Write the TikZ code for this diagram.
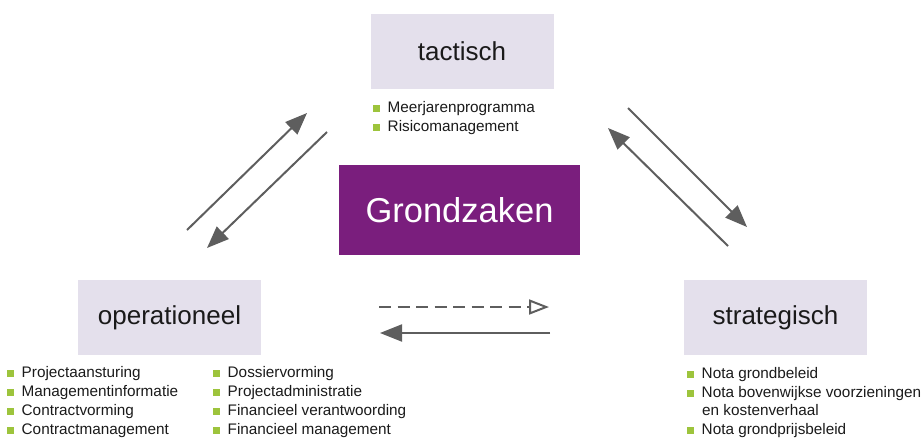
\documentclass[tikz,border=0pt]{standalone}
\usepackage{fontspec}
\setmainfont{Liberation Sans}
\usetikzlibrary{arrows.meta}
\definecolor{boxfill}{HTML}{E4E0EC}
\definecolor{grond}{HTML}{7A1E7D}
\definecolor{arrowgray}{HTML}{5E5E5E}
\definecolor{bulgreen}{HTML}{9DC43C}
\definecolor{txt}{HTML}{1A1A1A}
\newcommand{\bulsq}{\textcolor{bulgreen}{\rule[0.5pt]{7pt}{7pt}}\hspace{7.5pt}}
\tikzset{
  levelbox/.style={fill=boxfill, draw=none, minimum width=183pt, minimum height=75pt, inner sep=0pt, text=txt, font=\fontsize{26}{30}\selectfont},
  corebox/.style={fill=grond, draw=none, minimum width=241pt, minimum height=90pt, inner sep=0pt, text=white, font=\fontsize{34.5}{40}\selectfont},
  item/.style={anchor=base west, inner sep=0pt, text=txt, font=\fontsize{15.3}{18}\selectfont},
  flow/.style={draw=arrowgray, line width=2pt, -{Triangle[length=22pt,width=17pt]}},
  dashflow/.style={draw=arrowgray, line width=2pt, dash pattern=on 12pt off 6.5pt, -{Triangle[open,length=20pt,width=15pt,line width=2pt]}}
}
\begin{document}
\begin{tikzpicture}[x=1pt,y=-1pt]
\useasboundingbox (0,0) rectangle (923,437);
\clip (0,0) rectangle (923,437);
% boxes
\node[levelbox] (tac) at (462,51.5) {tactisch};
\node[levelbox] (ope) at (169.5,317.5) {operationeel};
\node[levelbox] (str) at (775.5,317.5) {strategisch};
\node[corebox] (gz) at (459.5,210) {Grondzaken};
% tactisch list
\node[item] (t1) at (373,112) {\bulsq Meerjarenprogramma};
\node[item] (t2) at (373,131) {\bulsq Risicomanagement};
% operationeel lists
\node[item] (o1) at (7,377.5) {\bulsq Projectaansturing};
\node[item] (o2) at (7,396.5) {\bulsq Managementinformatie};
\node[item] (o3) at (7,415.5) {\bulsq Contractvorming};
\node[item] (o4) at (7,434.3) {\bulsq Contractmanagement};
\node[item] (o5) at (213,377.5) {\bulsq Dossiervorming};
\node[item] (o6) at (213,396.5) {\bulsq Projectadministratie};
\node[item] (o7) at (213,415.5) {\bulsq Financieel verantwoording};
\node[item] (o8) at (213,434.3) {\bulsq Financieel management};
% strategisch list
\node[item] (s1) at (687,378) {\bulsq Nota grondbeleid};
\node[item] (s2) at (687,397) {\bulsq Nota bovenwijkse voorzieningen};
\node[item] (s3) at (702,415.5) {en kostenverhaal};
\node[item] (s4) at (687,434.3) {\bulsq Nota grondprijsbeleid};
% arrow end points
\coordinate (a1s) at (187,230);
\coordinate (a1e) at (307,113);
\coordinate (a2s) at (327,132);
\coordinate (a2e) at (207,248);
\coordinate (a3s) at (628,108);
\coordinate (a3e) at (747,227);
\coordinate (a4s) at (728,246);
\coordinate (a4e) at (608,128);
\coordinate (a5s) at (379,307);
\coordinate (a5e) at (549,307);
\coordinate (a6s) at (550,333);
\coordinate (a6e) at (380,333);
\draw[flow] (a1s) -- (a1e);
\draw[flow] (a2s) -- (a2e);
\draw[flow] (a3s) -- (a3e);
\draw[flow] (a4s) -- (a4e);
\draw[dashflow] (a5s) -- (a5e);
\draw[flow] (a6s) -- (a6e);
\end{tikzpicture}
\end{document}
